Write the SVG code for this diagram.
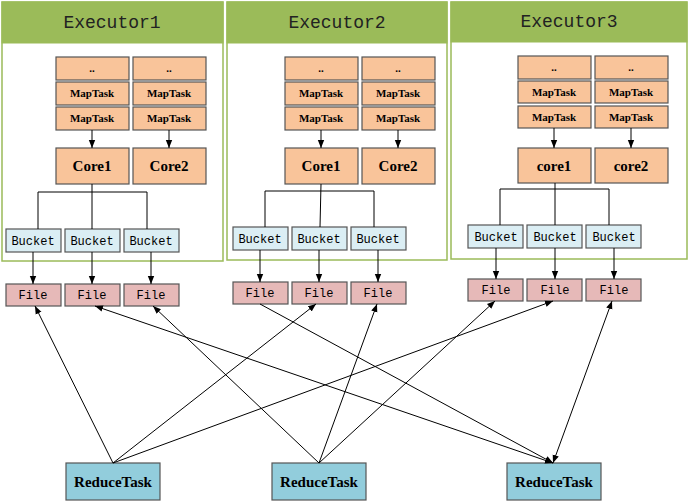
<svg xmlns="http://www.w3.org/2000/svg" width="692" height="503" viewBox="0 0 692 503">
<defs>
<marker id="a" viewBox="0 0 10 10" refX="10" refY="5" markerWidth="8" markerHeight="8" orient="auto-start-reverse"><path d="M0,1 L10,5 L0,9 z" fill="#000"/></marker>
<style>
.ex{fill:#fff;stroke:#9bbb59;stroke-width:1.5}
.hd{fill:#9bbb59;stroke:#9bbb59}
.ht{font:18px "Liberation Mono",monospace;fill:#222;text-anchor:middle}
.o{fill:#f9c49a;stroke:#555;stroke-width:1.2}
.b{fill:#dbeef4;stroke:#555;stroke-width:1.2}
.f{fill:#e6b9b8;stroke:#555;stroke-width:1.2}
.r{fill:#92cddc;stroke:#555;stroke-width:1.2}
.t{font:bold 11px "Liberation Serif",serif;text-anchor:middle}
.c{font:bold 15px "Liberation Serif",serif;text-anchor:middle}
.m{font:12px "Liberation Mono",monospace;text-anchor:middle}
.l{stroke:#000;stroke-width:1;fill:none}
.k{stroke:#000;stroke-width:1;fill:none;marker-end:url(#a)}
</style>
</defs>
<g id="executor1"><rect class="ex" x="2" y="2" width="221" height="259"/><rect class="hd" x="2" y="2" width="221" height="41"/><text class="ht" x="112" y="28">Executor1</text></g>
<g id="executor2"><rect class="ex" x="227" y="2" width="220" height="258"/><rect class="hd" x="227" y="2" width="220" height="41"/><text class="ht" x="337" y="28">Executor2</text></g>
<g id="executor3"><rect class="ex" x="451" y="2" width="236" height="257"/><rect class="hd" x="451" y="2" width="236" height="40"/><text class="ht" x="569" y="27">Executor3</text></g>

<g id="e1-tasks">
<rect class="o" x="56" y="57" width="73" height="23"/><text class="t" x="92" y="72">..</text>
<rect class="o" x="56" y="82" width="73" height="23"/><text class="t" x="92" y="97">MapTask</text>
<rect class="o" x="56" y="107" width="73" height="23"/><text class="t" x="92" y="122">MapTask</text>
<rect class="o" x="133" y="57" width="73" height="23"/><text class="t" x="169" y="72">..</text>
<rect class="o" x="133" y="82" width="73" height="23"/><text class="t" x="169" y="97">MapTask</text>
<rect class="o" x="133" y="107" width="73" height="23"/><text class="t" x="169" y="122">MapTask</text>
</g>
<g id="e1-core1"><rect class="o" x="56" y="148" width="73" height="36"/><text class="c" x="92" y="171">Core1</text></g>
<g id="e1-core2"><rect class="o" x="133" y="148" width="73" height="36"/><text class="c" x="169" y="171">Core2</text></g>
<g id="e1-buckets">
<rect class="b" x="6" y="229" width="55" height="23"/><text class="m" x="33" y="245">Bucket</text>
<rect class="b" x="65" y="229" width="55" height="23"/><text class="m" x="92" y="245">Bucket</text>
<rect class="b" x="124" y="229" width="55" height="23"/><text class="m" x="151" y="245">Bucket</text>
</g>
<g id="e1-files">
<rect class="f" x="6" y="284" width="55" height="22"/><text class="m" x="33" y="299">File</text>
<rect class="f" x="65" y="284" width="55" height="22"/><text class="m" x="92" y="299">File</text>
<rect class="f" x="124" y="284" width="55" height="22"/><text class="m" x="151" y="299">File</text>
</g>

<g id="e2-tasks">
<rect class="o" x="285" y="57" width="73" height="23"/><text class="t" x="321" y="72">..</text>
<rect class="o" x="285" y="82" width="73" height="23"/><text class="t" x="321" y="97">MapTask</text>
<rect class="o" x="285" y="107" width="73" height="23"/><text class="t" x="321" y="122">MapTask</text>
<rect class="o" x="362" y="57" width="73" height="23"/><text class="t" x="398" y="72">..</text>
<rect class="o" x="362" y="82" width="73" height="23"/><text class="t" x="398" y="97">MapTask</text>
<rect class="o" x="362" y="107" width="73" height="23"/><text class="t" x="398" y="122">MapTask</text>
</g>
<g id="e2-core1"><rect class="o" x="285" y="148" width="73" height="36"/><text class="c" x="321" y="171">Core1</text></g>
<g id="e2-core2"><rect class="o" x="362" y="148" width="73" height="36"/><text class="c" x="398" y="171">Core2</text></g>
<g id="e2-buckets">
<rect class="b" x="233" y="227" width="55" height="23"/><text class="m" x="260" y="243">Bucket</text>
<rect class="b" x="292" y="227" width="55" height="23"/><text class="m" x="319" y="243">Bucket</text>
<rect class="b" x="351" y="227" width="55" height="23"/><text class="m" x="378" y="243">Bucket</text>
</g>
<g id="e2-files">
<rect class="f" x="233" y="282" width="55" height="22"/><text class="m" x="260" y="297">File</text>
<rect class="f" x="292" y="282" width="55" height="22"/><text class="m" x="319" y="297">File</text>
<rect class="f" x="351" y="282" width="55" height="22"/><text class="m" x="378" y="297">File</text>
</g>

<g id="e3-tasks">
<rect class="o" x="518" y="56" width="73" height="23"/><text class="t" x="554" y="71">..</text>
<rect class="o" x="518" y="81" width="73" height="22"/><text class="t" x="554" y="96">MapTask</text>
<rect class="o" x="518" y="106" width="73" height="22"/><text class="t" x="554" y="121">MapTask</text>
<rect class="o" x="595" y="56" width="73" height="23"/><text class="t" x="631" y="71">..</text>
<rect class="o" x="595" y="81" width="73" height="22"/><text class="t" x="631" y="96">MapTask</text>
<rect class="o" x="595" y="106" width="73" height="22"/><text class="t" x="631" y="121">MapTask</text>
</g>
<g id="e3-core1"><rect class="o" x="518" y="148" width="73" height="35"/><text class="c" x="554" y="171">core1</text></g>
<g id="e3-core2"><rect class="o" x="595" y="148" width="73" height="35"/><text class="c" x="631" y="171">core2</text></g>
<g id="e3-buckets">
<rect class="b" x="468" y="225" width="55" height="23"/><text class="m" x="496" y="241">Bucket</text>
<rect class="b" x="527" y="225" width="55" height="23"/><text class="m" x="555" y="241">Bucket</text>
<rect class="b" x="586" y="225" width="55" height="23"/><text class="m" x="614" y="241">Bucket</text>
</g>
<g id="e3-files">
<rect class="f" x="468" y="279" width="55" height="22"/><text class="m" x="496" y="294">File</text>
<rect class="f" x="527" y="279" width="55" height="22"/><text class="m" x="555" y="294">File</text>
<rect class="f" x="586" y="279" width="55" height="22"/><text class="m" x="614" y="294">File</text>
</g>

<g id="r1"><rect class="r" x="66" y="463" width="94" height="37"/><text class="c" x="113" y="487">ReduceTask</text></g>
<g id="r2"><rect class="r" x="272" y="463" width="94" height="37"/><text class="c" x="319" y="487">ReduceTask</text></g>
<g id="r3"><rect class="r" x="507" y="463" width="94" height="37"/><text class="c" x="554" y="487">ReduceTask</text></g>

<g id="connectors">
<path class="k" d="M92,130 V148"/><path class="k" d="M169,130 V148"/>
<path class="k" d="M321,130 V148"/><path class="k" d="M398,130 V148"/>
<path class="k" d="M554,128 V148"/><path class="k" d="M631,128 V148"/>
<path class="l" d="M92,184 V229 M38,229 V192 H147 V229"/>
<path class="l" d="M321,184 L320,227 M265,227 V191 H374 V227"/>
<path class="l" d="M555,183 V225 M500,225 V189 H609 V225"/>
<path class="k" d="M33,252 V284"/><path class="k" d="M92,252 V284"/><path class="k" d="M151,252 V284"/>
<path class="k" d="M260,250 V282"/><path class="k" d="M319,250 V282"/><path class="k" d="M378,250 V282"/>
<path class="k" d="M496,248 V279"/><path class="k" d="M555,248 V279"/><path class="k" d="M614,248 V279"/>
<path class="k" d="M113,463 L35,306"/>
<path class="k" d="M113,463 L316,304"/>
<path class="k" d="M113,463 L553,301"/>
<path class="k" d="M319,463 L153,306"/>
<path class="k" d="M319,463 L377,304"/>
<path class="k" d="M319,463 L495,301"/>
<path class="k" d="M260,304 L553,463"/>
<path class="k" style="marker-start:url(#a)" d="M95,306 L553,463"/>
<path class="k" style="marker-start:url(#a)" d="M553,463 L612,301"/>
</g>
</svg>
